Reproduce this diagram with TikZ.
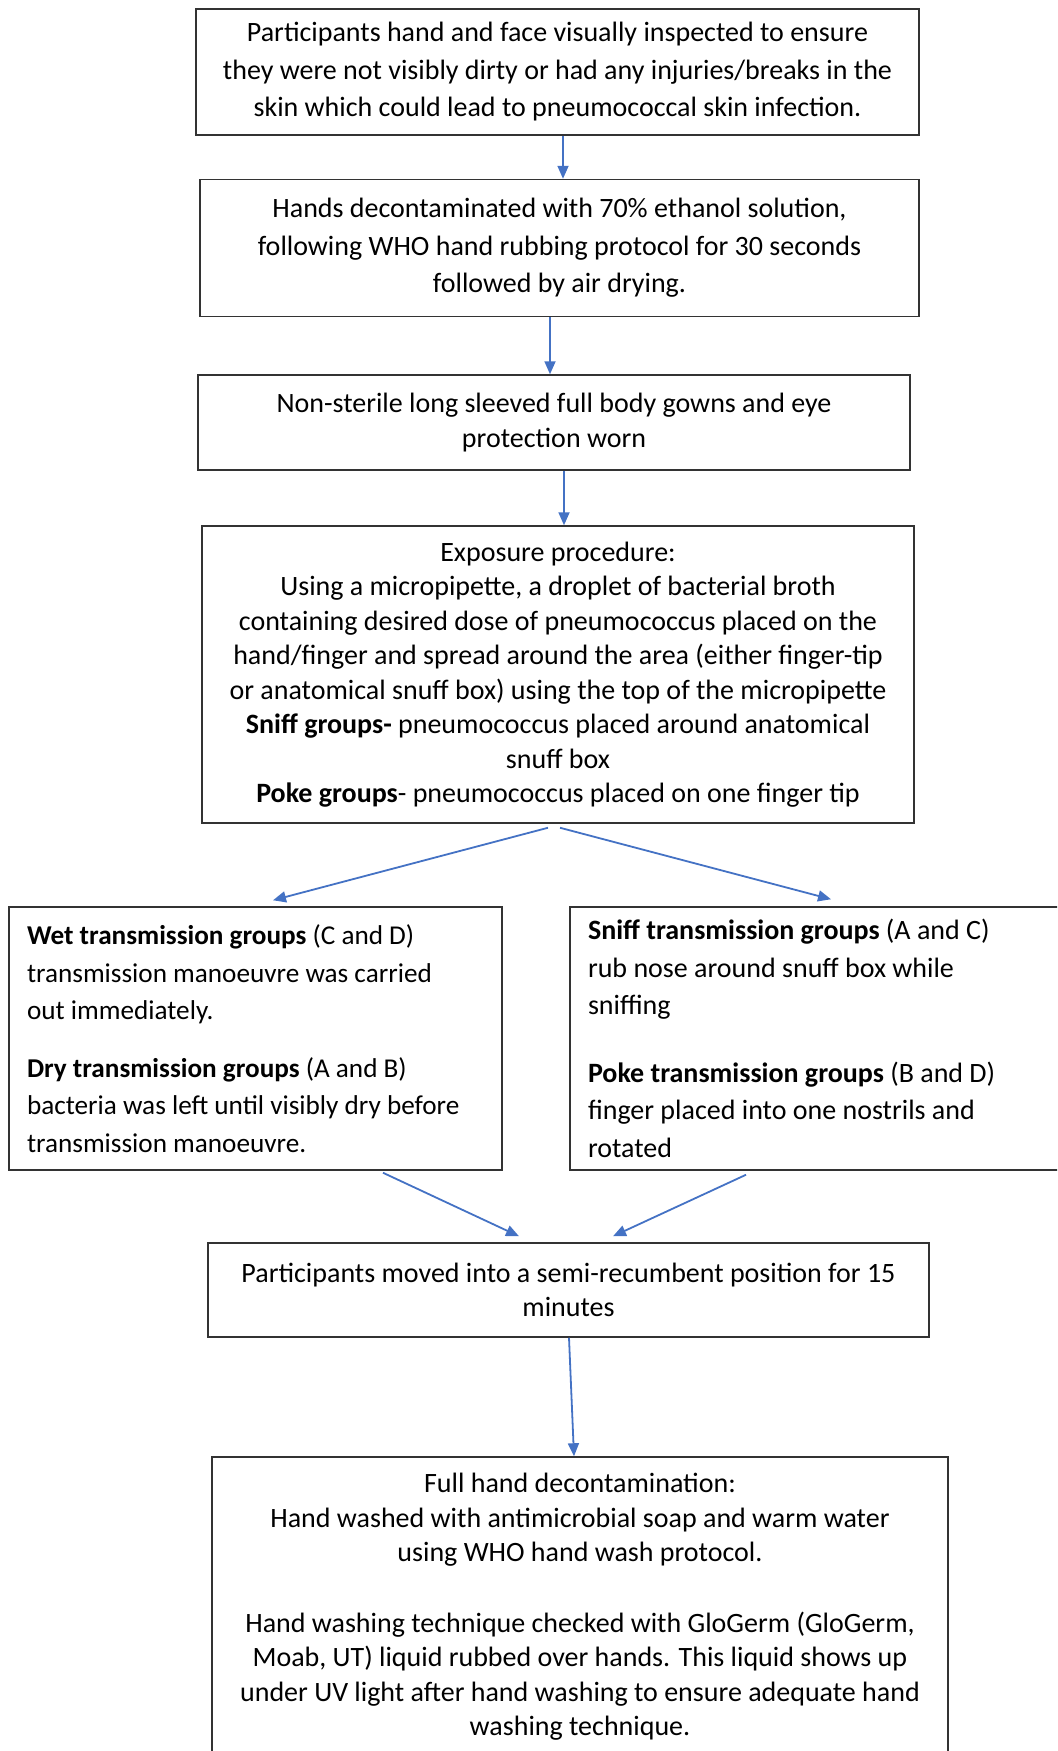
\documentclass[tikz,border=0pt]{standalone}
\usepackage{fontspec}
\setmainfont{Carlito}
\usetikzlibrary{arrows.meta,calc}
\definecolor{arrblue}{HTML}{4472C4}

\begin{document}
\begin{tikzpicture}[
  x=0.5pt,y=-0.5pt,
  font=\fontsize{14}{17.25}\selectfont,
  box/.style={draw=black!80,line width=0.75pt,align=center,inner sep=2pt},
  lbox/.style={draw=black!80,line width=0.75pt,align=flush left,inner xsep=9pt,inner ysep=2pt},
  wide/.style={font=\fontsize{14}{18.75}\selectfont},
  arr/.style={-{Triangle[length=6.5pt,width=5.5pt]},draw=arrblue,fill=arrblue,line width=0.9pt}
]
\clip (0,0) rectangle (1057,1751);

% ---- preparation ----
\node[box,wide,minimum width=361.5pt,minimum height=63pt] (inspect) at (557.5,72)
  {Participants hand and face visually inspected to ensure\\
   they were not visibly dirty or had any injuries/breaks in the\\
   skin which could lead to pneumococcal skin infection.};
\node[box,wide,minimum width=359.5pt,minimum height=68.5pt] (ethanol) at (559.5,248)
  {Hands decontaminated with 70\% ethanol solution,\\
   following WHO hand rubbing protocol for 30 seconds\\
   followed by air drying.};
\node[box,minimum width=356pt,minimum height=47.5pt] (gowns) at (554,422.5)
  {Non-sterile long sleeved full body gowns and eye\\
   protection worn};
\node[box,minimum width=356pt,minimum height=148.5pt] (expose) at (558,674.5)
  {Exposure procedure:\\
   Using a micropipette, a droplet of bacterial broth\\
   containing desired dose of pneumococcus placed on the\\
   hand/finger and spread around the area (either finger-tip\\
   or anatomical snuff box) using the top of the micropipette\\
   \textbf{Sniff groups-} pneumococcus placed around anatomical\\
   snuff box\\
   \textbf{Poke groups}- pneumococcus placed on one finger tip};

% ---- transmission groups ----
\node[lbox,font=\fontsize{13.6}{18.75}\selectfont,text width=228.5pt,minimum height=131.5pt] (wetdry) at (255.5,1038.5)
  {\textbf{Wet transmission groups} (C and D)\\
   transmission manoeuvre was carried\\
   out immediately.\\[10pt]
   \textbf{Dry transmission groups} (A and B)\\
   bacteria was left until visibly dry before\\
   transmission manoeuvre.};
\node[lbox,wide,text width=234.5pt,minimum height=131.5pt] (sniffpoke) at (822.5,1038.5)
  {\textbf{Sniff transmission groups} (A and C)\\
   rub nose around snuff box while\\
   sniffing\\[15pt]
   \textbf{Poke transmission groups} (B and D)\\
   finger placed into one nostrils and\\
   rotated};

% ---- after exposure ----
\node[box,minimum width=360.5pt,minimum height=47pt] (recline) at (568.5,1290)
  {Participants moved into a semi-recumbent position for 15\\
   minutes};
\node[box,minimum width=368pt,minimum height=150pt] (wash) at (580,1607)
  {Full hand decontamination:\\
   Hand washed with antimicrobial soap and warm water\\
   using WHO hand wash protocol.\\[18pt]
   Hand washing technique checked with GloGerm (GloGerm,\\
   Moab, UT) liquid rubbed over hands. This liquid shows up\\
   under UV light after hand washing to ensure adequate hand\\
   washing technique.};

\draw[arr] ($(inspect.south)+(5.5,0)$) -- ($(ethanol.north)+(3.5,0)$);
\draw[arr] ($(ethanol.south)+(-9.5,0)$) -- ($(gowns.north)+(-4,0)$);
\draw[arr] ($(gowns.south)+(10,0)$) -- ($(expose.north)+(6,0)$);
\draw[arr] ($(expose.south)+(-10,4)$) -- ($(wetdry.north)+(17.5,-6)$);
\draw[arr] ($(expose.south)+(2,4)$) -- ($(sniffpoke.north)+(8.5,-7)$);
\draw[arr] ($(wetdry.south)+(127.5,2)$) -- ($(recline.north)+(-49.5,-6)$);
\draw[arr] ($(sniffpoke.south)+(-76.5,4)$) -- ($(recline.north)+(44.5,-6)$);
\draw[arr] ($(recline.south)+(0.5,0)$) -- ($(wash.north)+(-6,0)$);
\end{tikzpicture}
\end{document}
